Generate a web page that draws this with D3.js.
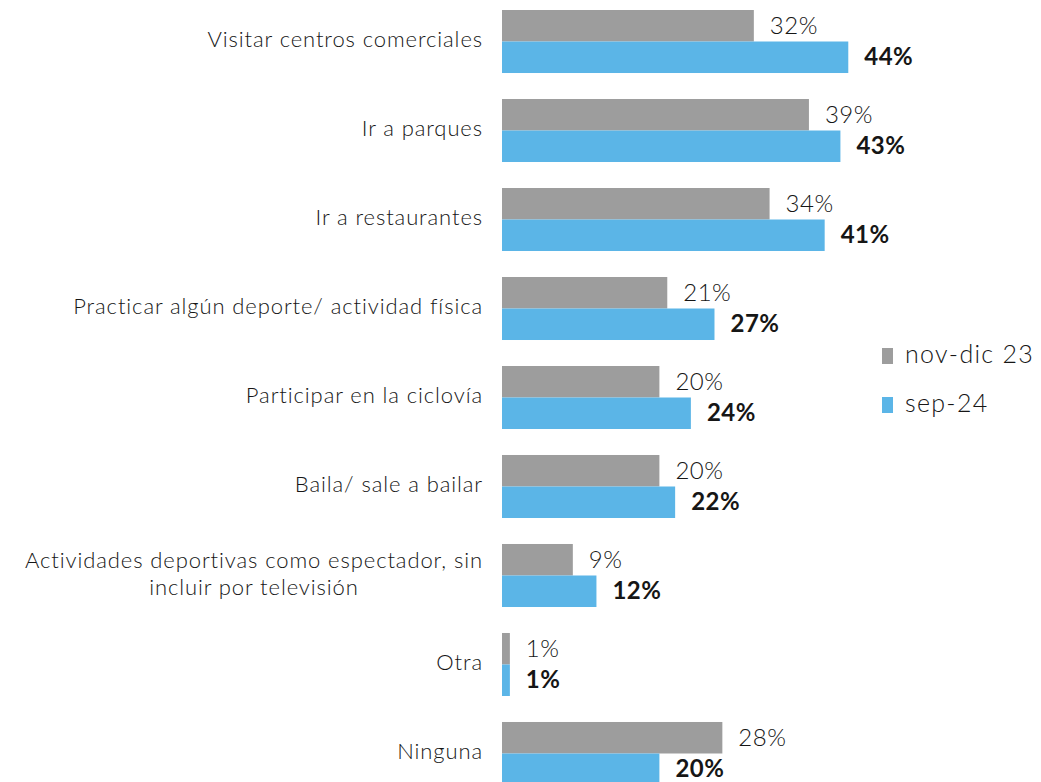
<!DOCTYPE html>
<html>
<head>
<meta charset="utf-8">
<script src="https://cdn.jsdelivr.net/npm/d3@7"></script>
<style>
  html, body { margin: 0; padding: 0; background: #ffffff; }
  svg text { font-family: "Century Gothic", "Lato", sans-serif; fill: #161616; font-weight: 300; }
</style>
</head>
<body>
<svg id="chart" width="1041" height="782"></svg>
<script>
// Activities done in free time, by survey wave (%)
const categories = [
  "Visitar centros comerciales",
  "Ir a parques",
  "Ir a restaurantes",
  "Practicar algún deporte/ actividad física",
  "Participar en la ciclovía",
  "Baila/ sale a bailar",
  "Actividades deportivas como espectador, sin|incluir por televisión",
  "Otra",
  "Ninguna"
];
const seriesNames = ["nov-dic 23", "sep-24"];
const novDic23 = [32, 39, 34, 21, 20, 20, 9, 1, 28];
const sep24 = [44, 43, 41, 27, 24, 22, 12, 1, 20];
const colors = ["#9d9d9d", "#5bb5e7"];

const svg = d3.select("#chart");

const x = d3.scaleLinear().domain([0, 100]).range([502, 502 + 787]);
const y = d3.scaleBand().domain(categories).range([10, 785]).paddingInner(0.292).paddingOuter(0);
const ySub = d3.scaleBand().domain(seriesNames).range([0, y.bandwidth()]);

const rows = categories.map((c, i) => ({
  cat: c,
  vals: [
    { s: seriesNames[0], v: novDic23[i] },
    { s: seriesNames[1], v: sep24[i] }
  ]
}));

const g = svg.selectAll("g.row").data(rows).join("g")
  .attr("class", "row")
  .attr("transform", d => `translate(0,${y(d.cat)})`);

g.selectAll("rect").data(d => d.vals).join("rect")
  .attr("x", x(0))
  .attr("y", d => ySub(d.s))
  .attr("width", d => x(d.v) - x(0))
  .attr("height", ySub.bandwidth())
  .attr("fill", (d, i) => colors[i]);

g.selectAll("text.val").data(d => d.vals).join("text")
  .attr("class", "val")
  .attr("x", d => x(d.v) + 16)
  .attr("y", (d, i) => ySub(d.s) + ySub.bandwidth() / 2 + 2)
  .attr("dominant-baseline", "middle")
  .style("font-size", "24px")
  .style("letter-spacing", "0.5px")
  .style("font-weight", (d, i) => i === 1 ? "700" : "300")
  .text(d => d.v + "%");

// Category labels (right-aligned; a wrapped label has its second line centred under the first)
g.each(function(d) {
  const lines = d.cat.split("|");
  const sel = d3.select(this);
  const cy = y.bandwidth() / 2;
  const label = (yy) => sel.append("text")
    .attr("y", yy)
    .attr("dominant-baseline", "middle")
    .style("font-size", "22px")
    .style("letter-spacing", "0.9px");
  if (lines.length === 1) {
    label(cy).attr("x", 483).attr("text-anchor", "end").text(lines[0]);
  } else {
    const t1 = label(cy - 13).attr("x", 483).attr("text-anchor", "end").text(lines[0]);
    const w = t1.node().getComputedTextLength();
    label(cy + 14).attr("x", 483 - w / 2).attr("text-anchor", "middle").text(lines[1]);
  }
});

// Legend
const legend = svg.append("g").selectAll("g").data(seriesNames).join("g")
  .attr("transform", (d, i) => `translate(882,${348 + i * 49})`);
legend.append("rect")
  .attr("width", 11).attr("height", 16)
  .attr("fill", (d, i) => colors[i]);
legend.append("text")
  .attr("x", 23).attr("y", 9)
  .attr("dominant-baseline", "middle")
  .style("font-size", "25px")
  .style("letter-spacing", "1.3px")
  .text(d => d);
</script>
</body>
</html>
